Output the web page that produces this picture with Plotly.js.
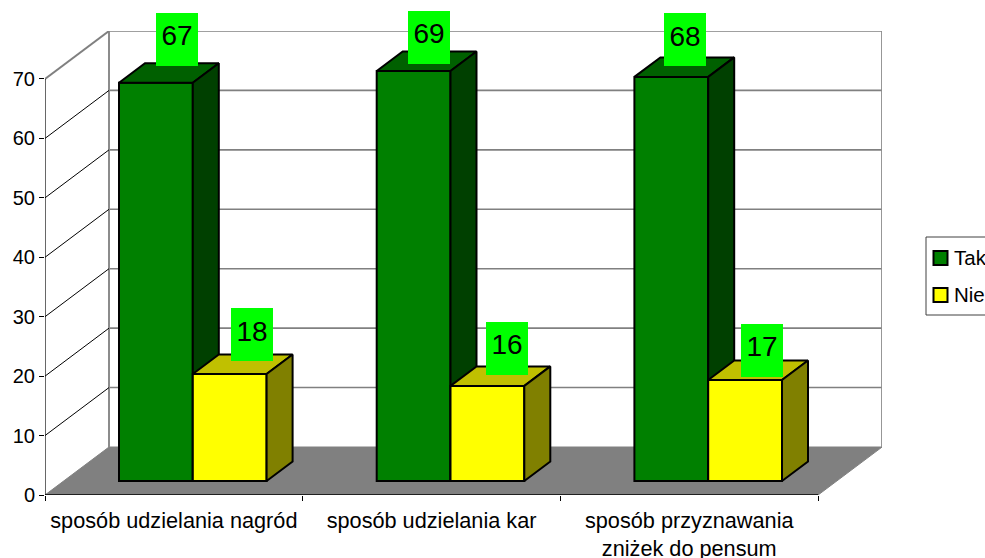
<!DOCTYPE html>
<html>
<head>
<meta charset="utf-8">
<script src="https://cdn.plot.ly/plotly-3.0.1.min.js"></script>
<style>html,body{margin:0;padding:0;background:#fff;overflow:hidden}#chart{width:985px;height:558px}</style>
</head>
<body>
<div id="chart"></div>
<script>
const categories = ["sposób udzielania nagród", "sposób udzielania kar", "sposób przyznawania<br>zniżek do pensum"];
const seriesNames = ["Tak", "Nie"];
const takValues = [67, 69, 68];
const nieValues = [18, 16, 17];
const yTicks = [0, 10, 20, 30, 40, 50, 60, 70];

const FONT = '"Liberation Sans", Arial, sans-serif';
const W = 985, H = 558, L = 45, R = 103, T = 31, B = 63;
const PX = 257.7, PY = 5.943;              // pixels per category, pixels per value
const wallDX = 64 / PX, wallDY = 48 / PY;   // depth of the whole floor
const startDX = 18.7 / PX, startDY = 14 / PY; // where bars start in depth
const barDX = 26 / PX, barDY = 19.5 / PY;   // depth of a bar
const gap = 55.3 / PX, barW = 73.8 / PX;
const xRange = [0, (W - L - R) / PX], yRange = [0, (H - T - B) / PY];
const nCat = categories.length, yMax = yTicks[yTicks.length - 1];
const paperX = px => (px - L) / (W - L - R), paperY = px => (H - B - px) / (H - T - B);

function line(xs, ys, color, width) {
  return {type: 'scatter', mode: 'lines', x: xs, y: ys, xaxis: 'x', yaxis: 'y', cliponaxis: false,
    line: {color: color, width: width, simplify: false}, showlegend: false, hoverinfo: 'skip'};
}
function poly(xs, ys, fill, lineColor, width, xa, ya) {
  return {type: 'scatter', mode: 'lines', x: xs, y: ys, xaxis: xa, yaxis: ya, fill: 'toself', fillcolor: fill,
    cliponaxis: false, line: {color: lineColor, width: width, simplify: false}, showlegend: false, hoverinfo: 'skip'};
}

const traces = [];
// floor
traces.push(poly([0, wallDX, nCat + wallDX, nCat, 0], [0, wallDY, wallDY, 0, 0], '#808080', '#808080', 1, 'x', 'y'));
// back wall grid
const gx = [], gy = [];
yTicks.slice(1).forEach(t => { gx.push(wallDX, nCat + wallDX, null); gy.push(t + wallDY, t + wallDY, null); });
traces.push(line(gx, gy, '#808080', 1.6));
traces.push(line([wallDX, wallDX, null, nCat + wallDX, nCat + wallDX], [wallDY, yMax + wallDY, null, wallDY, yMax + wallDY], '#8c8c8c', 2));
// side wall diagonals
const dx = [], dy = [];
yTicks.slice(1, -1).forEach(t => { dx.push(0, wallDX, null); dy.push(t, t + wallDY, null); });
traces.push(line(dx, dy, '#000000', 1));
traces.push(line([0, wallDX], [yMax, yMax + wallDY], '#808080', 2));
// axis lines
traces.push(line([0, 0], [0, yMax], '#000000', 1.2));
traces.push(line([0, nCat], [0, 0], '#000000', 1.6));

function addSeries(values, seriesIdx, name, front, topC, sideC, xa, ya) {
  const xs = values.map((v, i) => i + gap + startDX + barW * (seriesIdx + 0.5));
  traces.push({type: 'bar', name: name, x: xs, y: values, base: values.map(() => startDY), width: values.map(() => barW),
    xaxis: xa, yaxis: ya, showlegend: false, marker: {color: front, line: {color: '#000', width: 2}}, hoverinfo: 'skip'});
  values.forEach((v, i) => {
    const x0 = xs[i] - barW / 2, x1 = xs[i] + barW / 2, y1 = v + startDY;
    traces.push(poly([x0, x1, x1 + barDX, x0 + barDX, x0], [y1, y1, y1 + barDY, y1 + barDY, y1], topC, '#000', 2, xa, ya));
    traces.push(poly([x1, x1 + barDX, x1 + barDX, x1, x1], [startDY, startDY + barDY, y1 + barDY, y1, startDY], sideC, '#000', 2, xa, ya));
  });
  return xs;
}
const seriesColors = ['#008000', '#ffff00'];
const takX = addSeries(takValues, 0, seriesNames[0], seriesColors[0], '#006000', '#004000', 'x2', 'y2');
const nieX = addSeries(nieValues, 1, seriesNames[1], seriesColors[1], '#c0c000', '#808000', 'x3', 'y3');

// label box placement relative to the front-top-centre of each bar (pixels)
const takShift = [[21, -17], [15, -7], [13.5, -10.7]];
const nieShift = [[22, -13], [19.5, -11], [16.5, -3]];
function labels(xs, values, shift) {
  const common = (v, i) => ({
    xref: 'x', yref: 'y', x: xs[i], y: v + startDY, xanchor: 'center', yanchor: 'bottom',
    xshift: shift[i][0], showarrow: false, width: 42, height: 53, borderpad: 0, borderwidth: 0,
    align: 'center', valign: 'middle'
  });
  const boxes = values.map((v, i) => Object.assign(common(v, i), {
    yshift: -shift[i][1], text: ' ', bgcolor: '#00ff00', font: {family: FONT, size: 28, color: '#000'}}));
  const texts = values.map((v, i) => Object.assign(common(v, i), {
    yshift: -shift[i][1] + 3.5, text: String(v), font: {family: FONT, size: 28, color: '#000'}}));
  return boxes.concat(texts);
}

// legend box, clipped by the window as in the picture
const legendRows = [258, 295];
const legendShapes = [{type: 'rect', xref: 'paper', yref: 'paper', layer: 'above',
  x0: paperX(926), x1: paperX(995), y0: paperY(315), y1: paperY(237),
  line: {color: '#404040', width: 1}, fillcolor: '#ffffff'}].concat(seriesNames.map((n, i) => ({
  type: 'rect', xref: 'paper', yref: 'paper', layer: 'above',
  x0: paperX(933.5), x1: paperX(947.5), y0: paperY(legendRows[i] + 7), y1: paperY(legendRows[i] - 7),
  line: {color: '#000', width: 2}, fillcolor: seriesColors[i]})));
const legendTexts = seriesNames.map((n, i) => ({
  xref: 'paper', yref: 'paper', x: paperX(953), y: paperY(legendRows[i] - 1), xanchor: 'left', yanchor: 'middle',
  text: n, showarrow: false, borderpad: 0, font: {family: FONT, size: 20.5, color: '#000'}}));

const hidden = {showgrid: false, zeroline: false, showline: false, fixedrange: true};
const layout = {
  width: W, height: H, paper_bgcolor: '#fff', plot_bgcolor: '#fff',
  margin: {l: L, r: R, t: T, b: B, pad: 0, autoexpand: false},
  barmode: 'overlay', hovermode: false, showlegend: false, font: {family: FONT, size: 20, color: '#000'},
  xaxis: Object.assign({}, hidden, {range: xRange, tickmode: 'array', tickvals: [0, 1, 2, 3], ticktext: ['', '', '', ''],
    ticks: 'outside', ticklen: 5, tickwidth: 1, tickcolor: '#000'}),
  yaxis: Object.assign({}, hidden, {range: yRange, tickmode: 'array', tickvals: yTicks, ticks: 'outside', ticklen: 5,
    tickwidth: 1, tickcolor: '#000', tickfont: {family: FONT, size: 20, color: '#000'}}),
  xaxis2: Object.assign({}, hidden, {range: xRange, overlaying: 'x', anchor: 'y2', tickmode: 'array',
    tickvals: categories.map((c, i) => i + 0.5), ticktext: categories, ticks: '', ticklen: 0, tickangle: 0,
    ticklabelstandoff: 10, tickfont: {family: FONT, size: 21.7, color: '#000'}}),
  yaxis2: Object.assign({}, hidden, {range: yRange, overlaying: 'y', anchor: 'x2', showticklabels: false}),
  xaxis3: Object.assign({}, hidden, {range: xRange, overlaying: 'x', anchor: 'y3', showticklabels: false}),
  yaxis3: Object.assign({}, hidden, {range: yRange, overlaying: 'y', anchor: 'x3', showticklabels: false}),
  annotations: labels(takX, takValues, takShift).concat(labels(nieX, nieValues, nieShift)).concat(legendTexts),
  shapes: legendShapes
};
Plotly.newPlot('chart', traces, layout, {displayModeBar: false, staticPlot: true});
</script>
</body>
</html>
